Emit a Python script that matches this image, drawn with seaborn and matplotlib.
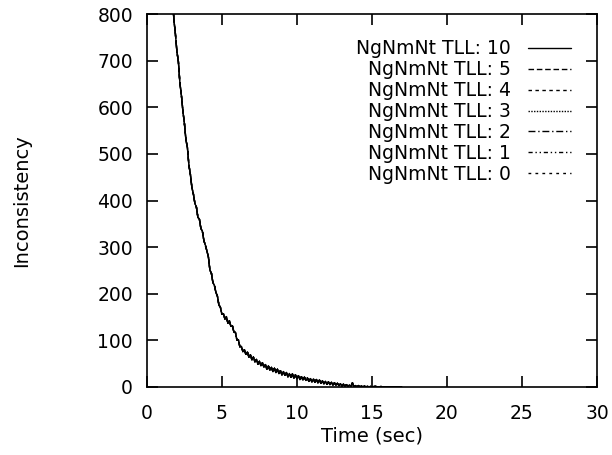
import matplotlib
matplotlib.use("Agg")
import matplotlib.pyplot as plt
import seaborn as sns
import pandas as pd

time_sec = [1.7, 1.8, 1.9, 2.0, 2.1, 2.2, 2.3, 2.4, 2.5, 2.6, 2.7, 2.8, 2.9, 3.0,
            3.1, 3.2, 3.3, 3.4, 3.5, 3.6, 3.7, 3.8, 3.9, 4.0, 4.1, 4.2, 4.3, 4.4,
            4.5, 4.6, 4.7, 4.8, 4.9, 5.0, 5.1, 5.2, 5.3, 5.4, 5.5, 5.6, 5.7, 5.8, 5.9,
            6.0, 6.1, 6.2, 6.3, 6.4, 6.5, 6.6, 6.7, 6.8, 6.9,
            7.0, 7.1, 7.2, 7.3, 7.4, 7.5, 7.6, 7.7, 7.8, 7.9,
            8.0, 8.1, 8.2, 8.3, 8.4, 8.5, 8.6, 8.7, 8.8, 8.9,
            9.0, 9.1, 9.2, 9.3, 9.4, 9.5, 9.6, 9.7, 9.8, 9.9,
            10.0, 10.1, 10.2, 10.3, 10.4, 10.5, 10.6, 10.7, 10.8, 10.9,
            11.0, 11.1, 11.2, 11.3, 11.4, 11.5, 11.6, 11.7, 11.8, 11.9,
            12.0, 12.1, 12.2, 12.3, 12.4, 12.5, 12.6, 12.7, 12.8, 12.9,
            13.0, 13.1, 13.2, 13.3, 13.4, 13.5, 13.6, 13.7, 13.8, 13.9,
            14.0, 14.1, 14.2, 14.3, 14.4, 14.5, 14.6, 14.7, 14.8, 14.9,
            15.0, 15.2, 15.4, 15.6, 15.8, 16.0, 16.3, 16.6, 17.0]
inconsistency = [840, 788, 758, 720, 698, 652, 626, 592, 566, 531, 514, 476, 456, 428,
                 414, 394, 386, 364, 360, 340, 334, 314, 304, 292, 279, 251, 244, 224,
                 218, 203, 195, 176, 171, 156, 157, 146, 151, 137, 142, 130, 131, 118, 117,
                 101, 101, 86, 87, 76, 80, 70, 75, 64, 69,
                 58, 64, 54, 59, 49, 55, 46, 52, 43, 48,
                 38, 45, 36, 42, 33, 40, 31, 38, 29, 35,
                 26, 33, 25, 31, 22, 29, 21, 28, 19, 26,
                 18, 24, 16, 22, 15, 21, 14, 19, 12, 18,
                 11, 17, 10, 16, 9, 15, 8, 13, 7, 12,
                 6, 11, 5, 10, 4, 9, 4, 8, 3, 7,
                 2, 6, 2, 5, 1, 4, 1, 9, 0.5, 3,
                 0.5, 3, 0, 2, 0, 2, 0, 1.5, 0, 1,
                 0, 1.5, 0, 1, 0, 0.5, 0, 0.5, 0]
series_labels = ["NgNmNt TLL: 10", "NgNmNt TLL: 5", "NgNmNt TLL: 4", "NgNmNt TLL: 3",
                 "NgNmNt TLL: 2", "NgNmNt TLL: 1", "NgNmNt TLL: 0"]
x_ticks = [0, 5, 10, 15, 20, 25, 30]
y_ticks = [0, 100, 200, 300, 400, 500, 600, 700, 800]

dash_styles = [(None, None), (4, 2), (2.5, 2.5), (1, 1), (5, 2, 1, 2), (3, 2, 1, 2, 1, 2), (2, 3)]

sns.set_style("ticks")
plt.rcParams["font.family"] = ["DejaVu Sans"]
plt.rcParams["text.color"] = "black"
plt.rcParams["axes.labelcolor"] = "black"
plt.rcParams["xtick.color"] = "black"
plt.rcParams["ytick.color"] = "black"
FS = 13.5

fig = plt.figure(figsize=(6.12, 4.55), dpi=100)
ax = fig.add_axes([0.240, 0.1495, 0.7355, 0.8195])

df = pd.DataFrame({"t": time_sec, "v": inconsistency})
for lab, ds in zip(series_labels, dash_styles):
    sns.lineplot(data=df, x="t", y="v", ax=ax, color="black", linewidth=1.3, label=lab,
                 estimator=None, sort=False)
    ln = ax.get_lines()[-1]
    if ds[0] is None:
        ln.set_linestyle("-")
    else:
        ln.set_dashes(ds)

ax.set_xlim(0, 30)
ax.set_ylim(0, 800)
ax.set_xticks(x_ticks)
ax.set_yticks(y_ticks)
ax.tick_params(direction="in", length=8, width=1.2, top=True, right=True, labelsize=FS,
               colors="black", labelcolor="black")
ax.tick_params(axis="x", pad=12)
ax.tick_params(axis="y", pad=10)
for s in ax.spines.values():
    s.set_linewidth(1.2)
    s.set_color("black")
    s.set_visible(True)
ax.set_xlabel("Time (sec)", fontsize=FS + 0.5, labelpad=3, color="black")
ax.set_ylabel("Inconsistency", fontsize=FS + 0.5, color="black")
ax.yaxis.set_label_coords(-0.258, 0.5)

handles, labels = ax.get_legend_handles_labels()
for h in handles:
    h.set_linewidth(1.0)
leg = ax.legend(handles, labels, loc="upper right", bbox_to_anchor=(0.942, 0.932),
                frameon=False, markerfirst=False, handlelength=2.3, handletextpad=0.9,
                labelspacing=0.1, borderpad=0, borderaxespad=0, fontsize=FS,
                labelcolor="black")

fig.savefig("out.png", dpi=100)
